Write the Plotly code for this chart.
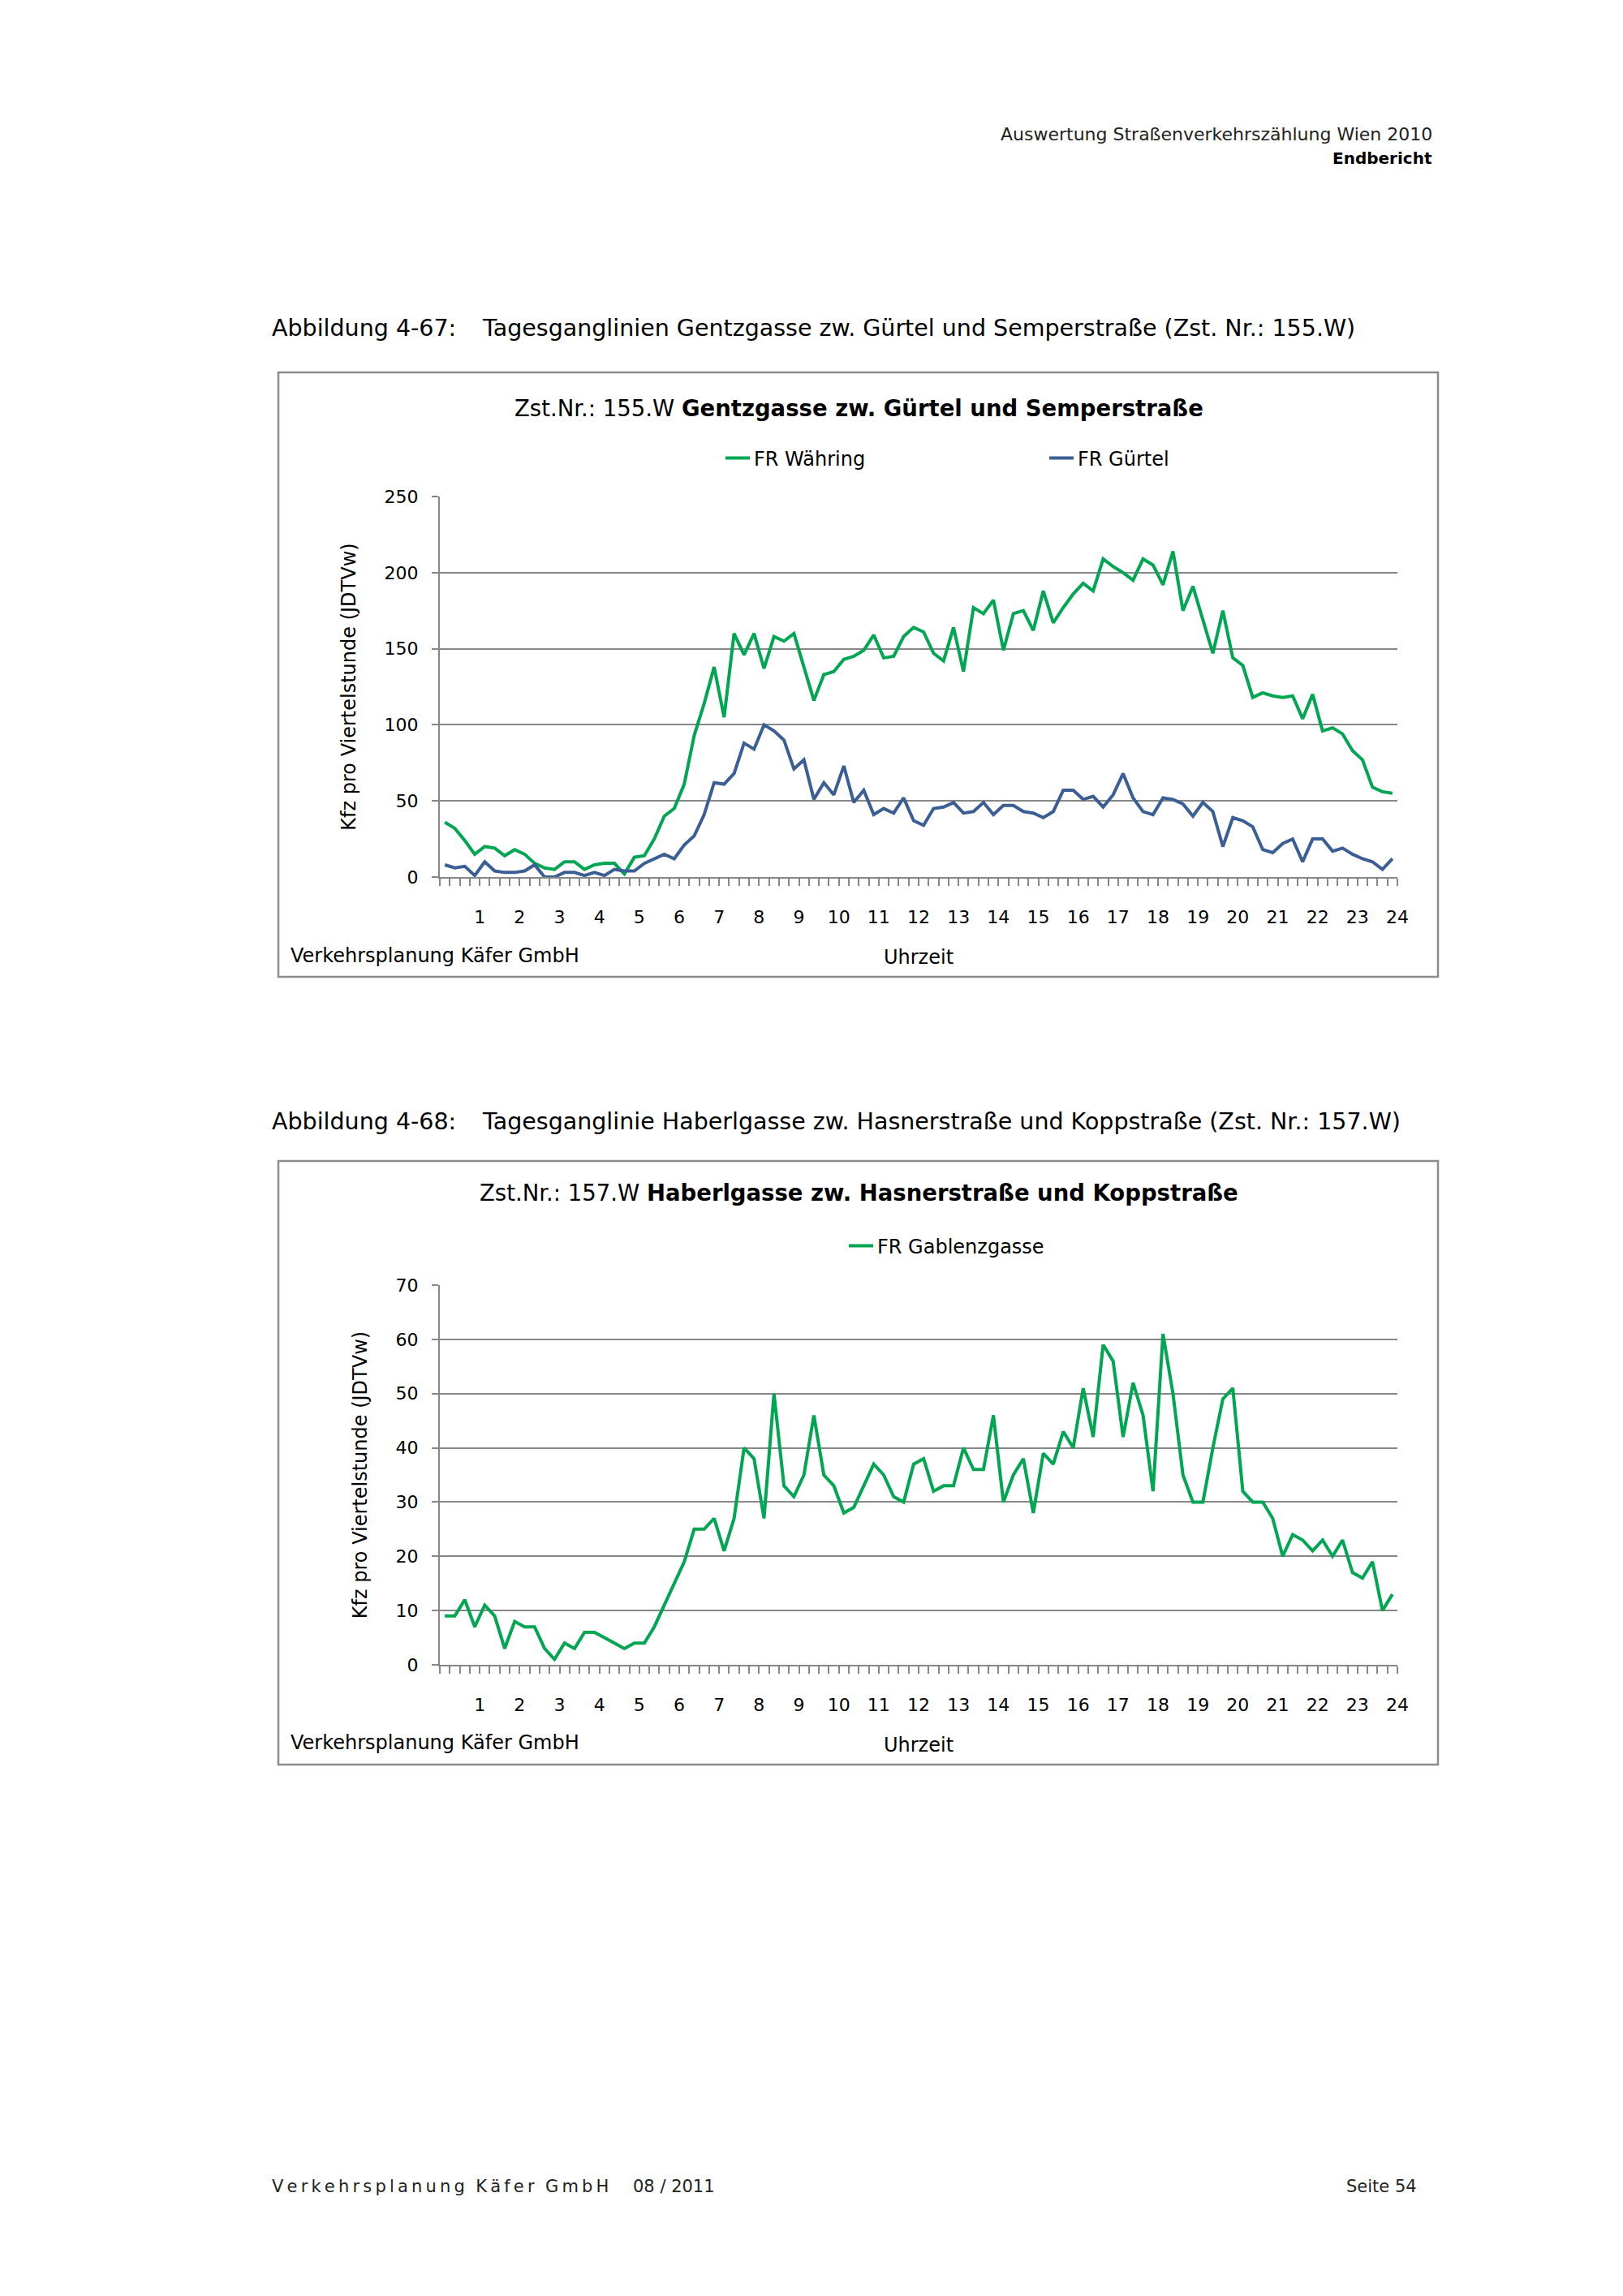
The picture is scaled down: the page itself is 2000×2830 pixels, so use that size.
import plotly.graph_objects as go

# ---------------- data ----------------
hours = list(range(1, 25))
hour_labels = [str(h) for h in hours]
# centre of each quarter-hour slot (in hours)
quarter_slots = [(i + 0.5) / 4 for i in range(96)]
quarter_ticks = [i / 4 for i in range(97)]

waehring = [36, 32, 24, 15, 20, 19, 14, 18, 15, 9, 6, 5, 10, 10, 5, 8, 9, 9, 2, 13,
            14, 25, 40, 45, 61, 93, 114, 138, 105, 160, 146, 160, 137,
            158, 155, 160, 138, 116, 133, 135, 143, 145, 149, 159, 144, 145, 158, 164, 161, 147,
            142, 164, 135, 177, 173, 182, 149, 173, 175, 162, 188, 167, 177, 186, 193, 188,
            209, 204, 200, 195, 209, 205, 192, 214, 175, 191, 169, 147, 175, 144, 139, 118,
            121, 119, 118, 119, 104, 120, 96, 98, 94, 83, 77, 59, 56, 55]

guertel = [8, 6, 7, 1, 10, 4, 3, 3, 4, 8, 0, 0, 3, 3, 1, 3, 1, 5, 4, 4,
           9, 12, 15, 12, 21, 27, 41, 62, 61, 68, 88, 84, 100,
           96, 90, 71, 77, 51, 62, 54, 73, 49, 57, 41, 45, 42, 52, 37, 34, 45,
           46, 49, 42, 43, 49, 41, 47, 47, 43, 42, 39, 43, 57, 57, 51, 53,
           46, 54, 68, 52, 43, 41, 52, 51, 48, 40, 49, 43, 20, 39, 37, 33,
           18, 16, 22, 25, 10, 25, 25, 17, 19, 15, 12, 10, 5, 12]

gablenz = [9, 9, 12, 7, 11, 9, 3, 8, 7, 7, 3, 1, 4, 3, 6, 6, 5, 4, 3, 4,
           4, 7, 11, 15, 19, 25, 25, 27, 21, 27, 40, 38, 27,
           50, 33, 31, 35, 46, 35, 33, 28, 29, 33, 37, 35, 31, 30, 37, 38, 32,
           33, 33, 40, 36, 36, 46, 30, 35, 38, 28, 39, 37, 43, 40, 51, 42,
           59, 56, 42, 52, 46, 32, 61, 50, 35, 30, 30, 40, 49, 51, 32, 30,
           30, 27, 20, 24, 23, 21, 23, 20, 23, 17, 16, 19, 10, 13]

y1_ticks = [0, 50, 100, 150, 200, 250]
y2_ticks = [0, 10, 20, 30, 40, 50, 60, 70]

# ---------------- styling ----------------
OFF = 8                      # page body margin of the browser
W, H = 2000 - OFF, 2830 - OFF
GREEN = "#00A651"
BLUE = "#3B5F95"
GRID = "#878787"
CHART_FONT = "DejaVu Sans, sans-serif"
PAGE_FONT = "DejaVu Sans, sans-serif"


def px(x):
    return (x - OFF) / W


def py(y):
    return 1 - (y - OFF) / H


fig = go.Figure()

fig.add_trace(go.Scatter(x=quarter_slots, y=waehring, mode="lines", name="FR Währing",
                         line=dict(color=GREEN, width=4), xaxis="x", yaxis="y", legend="legend"))
fig.add_trace(go.Scatter(x=quarter_slots, y=guertel, mode="lines", name="FR Gürtel",
                         line=dict(color=BLUE, width=4), xaxis="x", yaxis="y", legend="legend"))
fig.add_trace(go.Scatter(x=quarter_slots, y=gablenz, mode="lines", name="FR Gablenzgasse",
                         line=dict(color=GREEN, width=4), xaxis="x2", yaxis="y2", legend="legend2"))

x_dom = [px(542), px(1722)]


def xaxis_cfg(anchor):
    return dict(domain=x_dom, anchor=anchor, range=[0, 24], tickmode="array",
                tickvals=hours, ticktext=hour_labels, ticks="outside", ticklen=9,
                tickwidth=2, tickcolor=GRID, showline=True, linecolor=GRID, linewidth=2,
                showgrid=False, zeroline=False, ticklabelstandoff=20,
                tickfont=dict(family=CHART_FONT, size=22, color="#000"),
                minor=dict(tickvals=quarter_ticks, ticks="outside", ticklen=9, tickwidth=2,
                           tickcolor=GRID, showgrid=False),
                title=dict(text="Uhrzeit", standoff=29,
                           font=dict(family=CHART_FONT, size=24, color="#000")),
                automargin=False, fixedrange=True)


def yaxis_cfg(anchor, dom, rng, ticks):
    return dict(domain=dom, anchor=anchor, range=rng, tickmode="array", tickvals=ticks,
                ticks="outside", ticklen=8, tickwidth=2, tickcolor=GRID,
                showline=True, linecolor=GRID, linewidth=2, showgrid=True,
                gridcolor=GRID, gridwidth=2, zeroline=False, ticklabelstandoff=12,
                tickfont=dict(family=CHART_FONT, size=22, color="#000"),
                title=dict(text="Kfz pro Viertelstunde (JDTVw)", standoff=28,
                           font=dict(family=CHART_FONT, size=24, color="#000")),
                automargin=False, fixedrange=True)


fig.update_layout(
    width=W, height=H, autosize=False,
    margin=dict(l=0, r=0, t=0, b=0, pad=0),
    paper_bgcolor="white", plot_bgcolor="white",
    xaxis=xaxis_cfg("y"),
    yaxis=yaxis_cfg("x", [py(1081), py(612)], [0, 250], y1_ticks),
    xaxis2=xaxis_cfg("y2"),
    yaxis2=yaxis_cfg("x2", [py(2052), py(1584)], [0, 70], y2_ticks),
    legend=dict(orientation="h", x=px(889), xanchor="left", y=py(565), yanchor="middle",
                entrywidth=354, entrywidthmode="pixels", bgcolor="rgba(0,0,0,0)",
                font=dict(family=CHART_FONT, size=24, color="#000"), tracegroupgap=0),
    legend2=dict(orientation="h", x=px(1041), xanchor="left", y=py(1536), yanchor="middle",
                 bgcolor="rgba(0,0,0,0)",
                 font=dict(family=CHART_FONT, size=24, color="#000")),
    showlegend=True,
)

# chart frames
for top, bottom in [(459, 1204), (1431, 2175)]:
    fig.add_shape(type="rect", xref="paper", yref="paper",
                  x0=px(343), x1=px(1772), y0=py(bottom), y1=py(top),
                  line=dict(color="#8C8C8C", width=2.5), fillcolor="rgba(0,0,0,0)", layer="below")

ann = []


def text(x, y, s, size, family, xanchor="left", color="#000"):
    ann.append(dict(x=px(x), y=py(y), xref="paper", yref="paper", text=s, showarrow=False,
                    xanchor=xanchor, yanchor="middle",
                    font=dict(family=family, size=size, color=color)))


TS = "\u2009"  # thin space used for the letter-spaced footer


def spaced(s):
    return TS.join(list(s)).replace(TS + " " + TS, "  ")


# page header
text(1767, 166, "Auswertung Straßenverkehrszählung Wien 2010", 22, PAGE_FONT, "right", "#222")
text(1767, 195, "<b>Endbericht</b>", 20, PAGE_FONT, "right", "#000")

# captions
text(333, 404, "Abbildung 4-67:", 28.5, PAGE_FONT)
text(592, 404, "Tagesganglinien Gentzgasse zw. Gürtel und Semperstraße (Zst. Nr.: 155.W)", 28.5, PAGE_FONT)
text(333, 1382, "Abbildung 4-68:", 28.5, PAGE_FONT)
text(592, 1382, "Tagesganglinie Haberlgasse zw. Hasnerstraße und Koppstraße (Zst. Nr.: 157.W)", 28.5, PAGE_FONT)

# chart titles
text(1058, 503, "Zst.Nr.: 155.W <b>Gentzgasse zw. Gürtel und Semperstraße</b>", 27.5, CHART_FONT, "center")
text(1058, 1470, "Zst.Nr.: 157.W <b>Haberlgasse zw. Hasnerstraße und Koppstraße</b>", 27.5, CHART_FONT, "center")

# source labels inside chart frames
text(356, 1178, "Verkehrsplanung Käfer GmbH", 24, CHART_FONT)
text(356, 2148, "Verkehrsplanung Käfer GmbH", 24, CHART_FONT)

# footer
text(333, 2695, spaced("Verkehrsplanung Käfer GmbH"), 21, PAGE_FONT, "left", "#222")
text(778, 2695, "08 / 2011", 21, PAGE_FONT, "left", "#222")
text(1748, 2695, "Seite 54", 21, PAGE_FONT, "right", "#222")

fig.update_layout(annotations=ann)

fig.write_html("out.html")
